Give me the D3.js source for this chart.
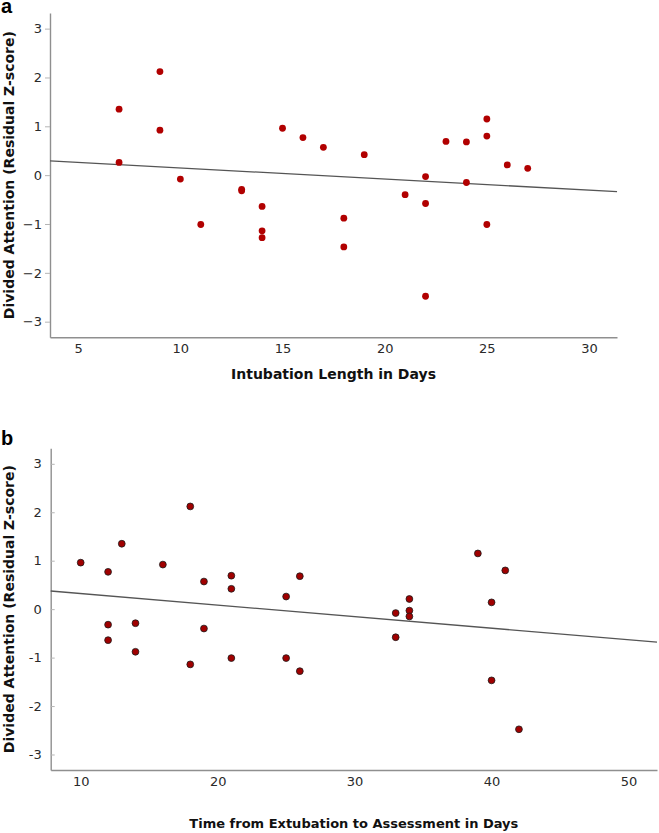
<!DOCTYPE html>
<html>
<head>
<meta charset="utf-8">
<script src="https://cdn.jsdelivr.net/npm/d3@7"></script>
<style>
  html, body { margin: 0; padding: 0; background: #fff; }
  svg { display: block; }
</style>
</head>
<body>
<svg id="chart" width="659" height="833"></svg>
<script>
// ---------- data ----------
const intubationDays = [7,7,9,9,10,11,13,13,14,14,14,15,16,17,18,18,19,21,22,22,22,23,24,24,25,25,25,26,27];
const attentionA = [1.35,0.26,2.12,0.92,-0.08,-1.01,-0.29,-0.32,-0.64,-1.14,-1.28,0.96,0.77,0.57,-0.88,-1.47,0.42,-0.40,-0.03,-0.58,-2.48,0.69,0.68,-0.15,1.15,0.80,-1.01,0.21,0.14];

const extubationDays = [10,12,12,12,13,14,14,16,18,18,19,19,21,21,21,25,25,26,26,33,33,34,34,34,39,40,40,41,42];
const attentionB = [0.96,0.77,-0.32,-0.64,1.35,-0.29,-0.88,0.92,2.12,-1.14,0.57,-0.40,0.69,0.42,-1.01,0.26,-1.01,0.68,-1.28,-0.08,-0.58,0.21,-0.03,-0.15,1.15,0.14,-1.47,0.80,-2.48];

const yTicks = [-3,-2,-1,0,1,2,3];
const xTicksA = [5,10,15,20,25,30];
const xTicksB = [10,20,30,40,50];
const xDomainA = [3.62, 31.37];
const xDomainB = [7.81, 52.08];
const yDomain = [-3.32, 3.32];

const yTitle = "Divided Attention (Residual Z-score)";
const xTitleA = "Intubation Length in Days";
const xTitleB = "Time from Extubation to Assessment in Days";

// ---------- helpers ----------
function ols(xs, ys) {
  const mx = d3.mean(xs), my = d3.mean(ys);
  let sxy = 0, sxx = 0;
  xs.forEach((x, i) => { sxy += (x - mx) * (ys[i] - my); sxx += (x - mx) * (x - mx); });
  const b = sxy / sxx;
  return { slope: b, intercept: my - b * mx };
}

const svg = d3.select("#chart");

function panel(cfg) {
  const g = svg.append("g");
  const x = d3.scaleLinear().domain(cfg.xDomain).range([cfg.left, cfg.right]);
  const y = d3.scaleLinear().domain(yDomain).range([cfg.bottom, cfg.top]);

  // y axis
  const yAxis = d3.axisLeft(y).tickValues(yTicks)
    .tickSizeInner(cfg.yTickInner).tickSizeOuter(0).tickPadding(cfg.yPad)
    .tickFormat(d => cfg.minus ? d3.format("")(d) : String(d));
  const ya = g.append("g").attr("transform", `translate(${cfg.left},0)`).call(yAxis);
  ya.select(".domain").attr("stroke", "#8f8f8f").attr("stroke-width", 1.4);
  ya.selectAll(".tick line").attr("stroke", "#b5b5b5").attr("stroke-width", 1);
  ya.selectAll(".tick text").attr("fill", "#2a2a2a")
    .style("font-family", cfg.tickFont).style("font-size", cfg.tickSize + "px");

  // x axis
  const xAxis = d3.axisBottom(x).tickValues(cfg.xTicks).tickSize(0).tickPadding(cfg.xPad);
  const xa = g.append("g").attr("transform", `translate(0,${cfg.bottom})`).call(xAxis);
  xa.select(".domain").attr("stroke", "#8f8f8f").attr("stroke-width", 1.4);
  xa.selectAll(".tick text").attr("fill", "#2a2a2a")
    .style("font-family", cfg.tickFont).style("font-size", cfg.tickSize + "px");

  // fit line
  const fit = ols(cfg.xs, cfg.ys);
  const line = d3.line().x(d => x(d)).y(d => y(fit.intercept + fit.slope * d));
  g.append("path").datum(cfg.xDomain).attr("d", line)
    .attr("fill", "none").attr("stroke", "#555").attr("stroke-width", 1.3);

  // points
  g.append("g").selectAll("circle")
    .data(cfg.xs.map((v, i) => [v, cfg.ys[i]]))
    .join("circle")
    .attr("cx", d => x(d[0])).attr("cy", d => y(d[1]))
    .attr("r", cfg.r)
    .attr("fill", cfg.fill)
    .attr("stroke", cfg.stroke)
    .attr("stroke-width", cfg.strokeW);

  // titles
  g.append("text")
    .attr("x", (cfg.left + cfg.right) / 2).attr("y", cfg.xTitleY)
    .attr("text-anchor", "middle")
    .style("font-family", cfg.titleFont).style("font-weight", "bold")
    .style("font-size", cfg.xTitleSize + "px").attr("fill", "#111")
    .text(cfg.xTitle);

  g.append("text")
    .attr("transform", `translate(${cfg.yTitleX},${(cfg.top + cfg.bottom) / 2}) rotate(-90)`)
    .attr("text-anchor", "middle")
    .style("font-family", cfg.titleFont).style("font-weight", "bold")
    .style("font-size", cfg.yTitleSize + "px").attr("fill", "#111")
    .text(yTitle);

  g.append("text")
    .attr("x", 1).attr("y", cfg.labelY)
    .style("font-family", "Liberation Sans, Arial, sans-serif").style("font-weight", "bold")
    .style("font-size", "20px").attr("fill", "#000")
    .text(cfg.label);
}

panel({
  label: "a", labelY: 13,
  xs: intubationDays, ys: attentionA,
  xDomain: xDomainA, xTicks: xTicksA,
  left: 50, right: 617, top: 13, bottom: 337.3,
  yTickInner: 5, yPad: 3, xPad: 6, minus: true,
  tickFont: "DejaVu Sans, sans-serif", tickSize: 13,
  titleFont: "DejaVu Sans, sans-serif",
  xTitle: xTitleA, xTitleY: 379, xTitleSize: 14,
  yTitleX: 14, yTitleSize: 14,
  r: 3.4, fill: "#b10000", stroke: "none", strokeW: 0
});

panel({
  label: "b", labelY: 445,
  xs: extubationDays, ys: attentionB,
  xDomain: xDomainB, xTicks: xTicksB,
  left: 50.7, right: 657, top: 448.3, bottom: 770,
  yTickInner: -4, yPad: 9, xPad: 7, minus: false,
  tickFont: "DejaVu Sans, sans-serif", tickSize: 13,
  titleFont: "DejaVu Sans, sans-serif",
  xTitle: xTitleB, xTitleY: 828, xTitleSize: 13,
  yTitleX: 14, yTitleSize: 14,
  r: 3.4, fill: "#a00000", stroke: "#1a1a1a", strokeW: 0.8
});
</script>
</body>
</html>
